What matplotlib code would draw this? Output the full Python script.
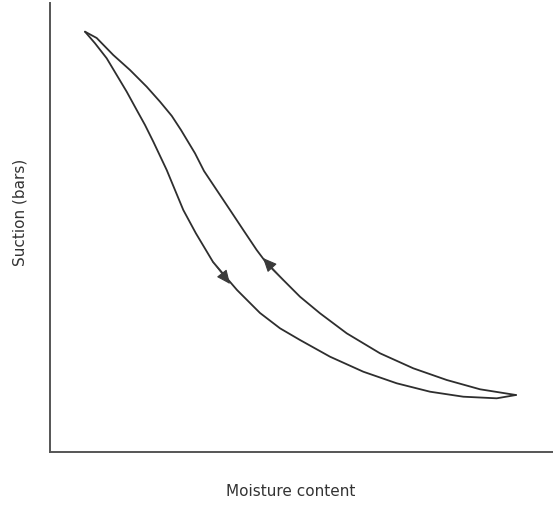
import matplotlib
matplotlib.use("Agg")
import matplotlib.pyplot as plt

# Drying branch (lower curve): top tip down to the bottom-right tip
dry_moisture = [0.696, 0.895, 1.127, 1.326, 1.525, 1.724, 1.889, 2.054, 2.320, 2.485,
                2.650, 2.900, 3.241, 3.479, 3.718, 3.917, 4.175, 4.573, 4.970, 5.567,
                6.229, 6.893, 7.555, 8.217, 8.881, 9.264]
dry_suction = [9.403, 9.143, 8.808, 8.434, 8.060, 7.651, 7.315, 6.942, 6.309, 5.861,
               5.414, 4.893, 4.251, 3.937, 3.624, 3.400, 3.110, 2.767, 2.506, 2.132,
               1.796, 1.537, 1.349, 1.237, 1.201, 1.275]

# Wetting branch (upper curve): bottom-right tip back up to the top tip
wet_moisture = [9.264, 8.549, 7.887, 7.223, 6.561, 5.899, 5.368, 4.970, 4.638, 4.308,
                4.109, 3.843, 3.579, 3.314, 3.062, 2.883, 2.604, 2.420, 2.187, 1.922,
                1.590, 1.258, 0.928, 0.696]
wet_suction = [1.275, 1.403, 1.611, 1.872, 2.208, 2.655, 3.103, 3.474, 3.848, 4.221,
               4.519, 4.966, 5.414, 5.861, 6.286, 6.682, 7.204, 7.520, 7.837, 8.172,
               8.546, 8.881, 9.262, 9.403]

# arrow positions on each branch: (tail, head) in data units
dry_arrow = [(3.241, 4.251), (3.579, 3.758)]
wet_arrow = [(4.638, 3.848), (4.235, 4.340)]

x_label = "Moisture content"
y_label = "Suction (bars)"

line_color = "#2e2e2e"

fig = plt.figure(figsize=(5.53, 5.05), dpi=100)
ax = fig.add_axes([50 / 553, 53 / 505, 503 / 553, 447 / 505])
ax.set_xlim(0, 10)
ax.set_ylim(0, 10)

ax.plot(dry_moisture, dry_suction, color=line_color, lw=1.3,
        solid_capstyle="round", solid_joinstyle="round")
ax.plot(wet_moisture, wet_suction, color=line_color, lw=1.3,
        solid_capstyle="round", solid_joinstyle="round")

for tail, head in (dry_arrow, wet_arrow):
    ax.annotate("", xy=head, xytext=tail,
                arrowprops=dict(arrowstyle="-|>,head_length=0.85,head_width=0.38",
                                color="#3a3a3a", lw=0.8, shrinkA=0, shrinkB=0))

for side in ("top", "right"):
    ax.spines[side].set_visible(False)
for side in ("left", "bottom"):
    ax.spines[side].set_color("#555555")
    ax.spines[side].set_linewidth(1.4)
ax.spines["left"].set_bounds(0, 10.05)
ax.set_xticks([])
ax.set_yticks([])

fig.text(291 / 553, 1 - 491 / 505, x_label, ha="center", va="center",
         fontsize=11, color="#333333", family="DejaVu Sans")
fig.text(20 / 553, 1 - 212 / 505, y_label, ha="center", va="center", rotation=90,
         fontsize=11, color="#333333", family="DejaVu Sans")

fig.savefig("out.png", dpi=100)
